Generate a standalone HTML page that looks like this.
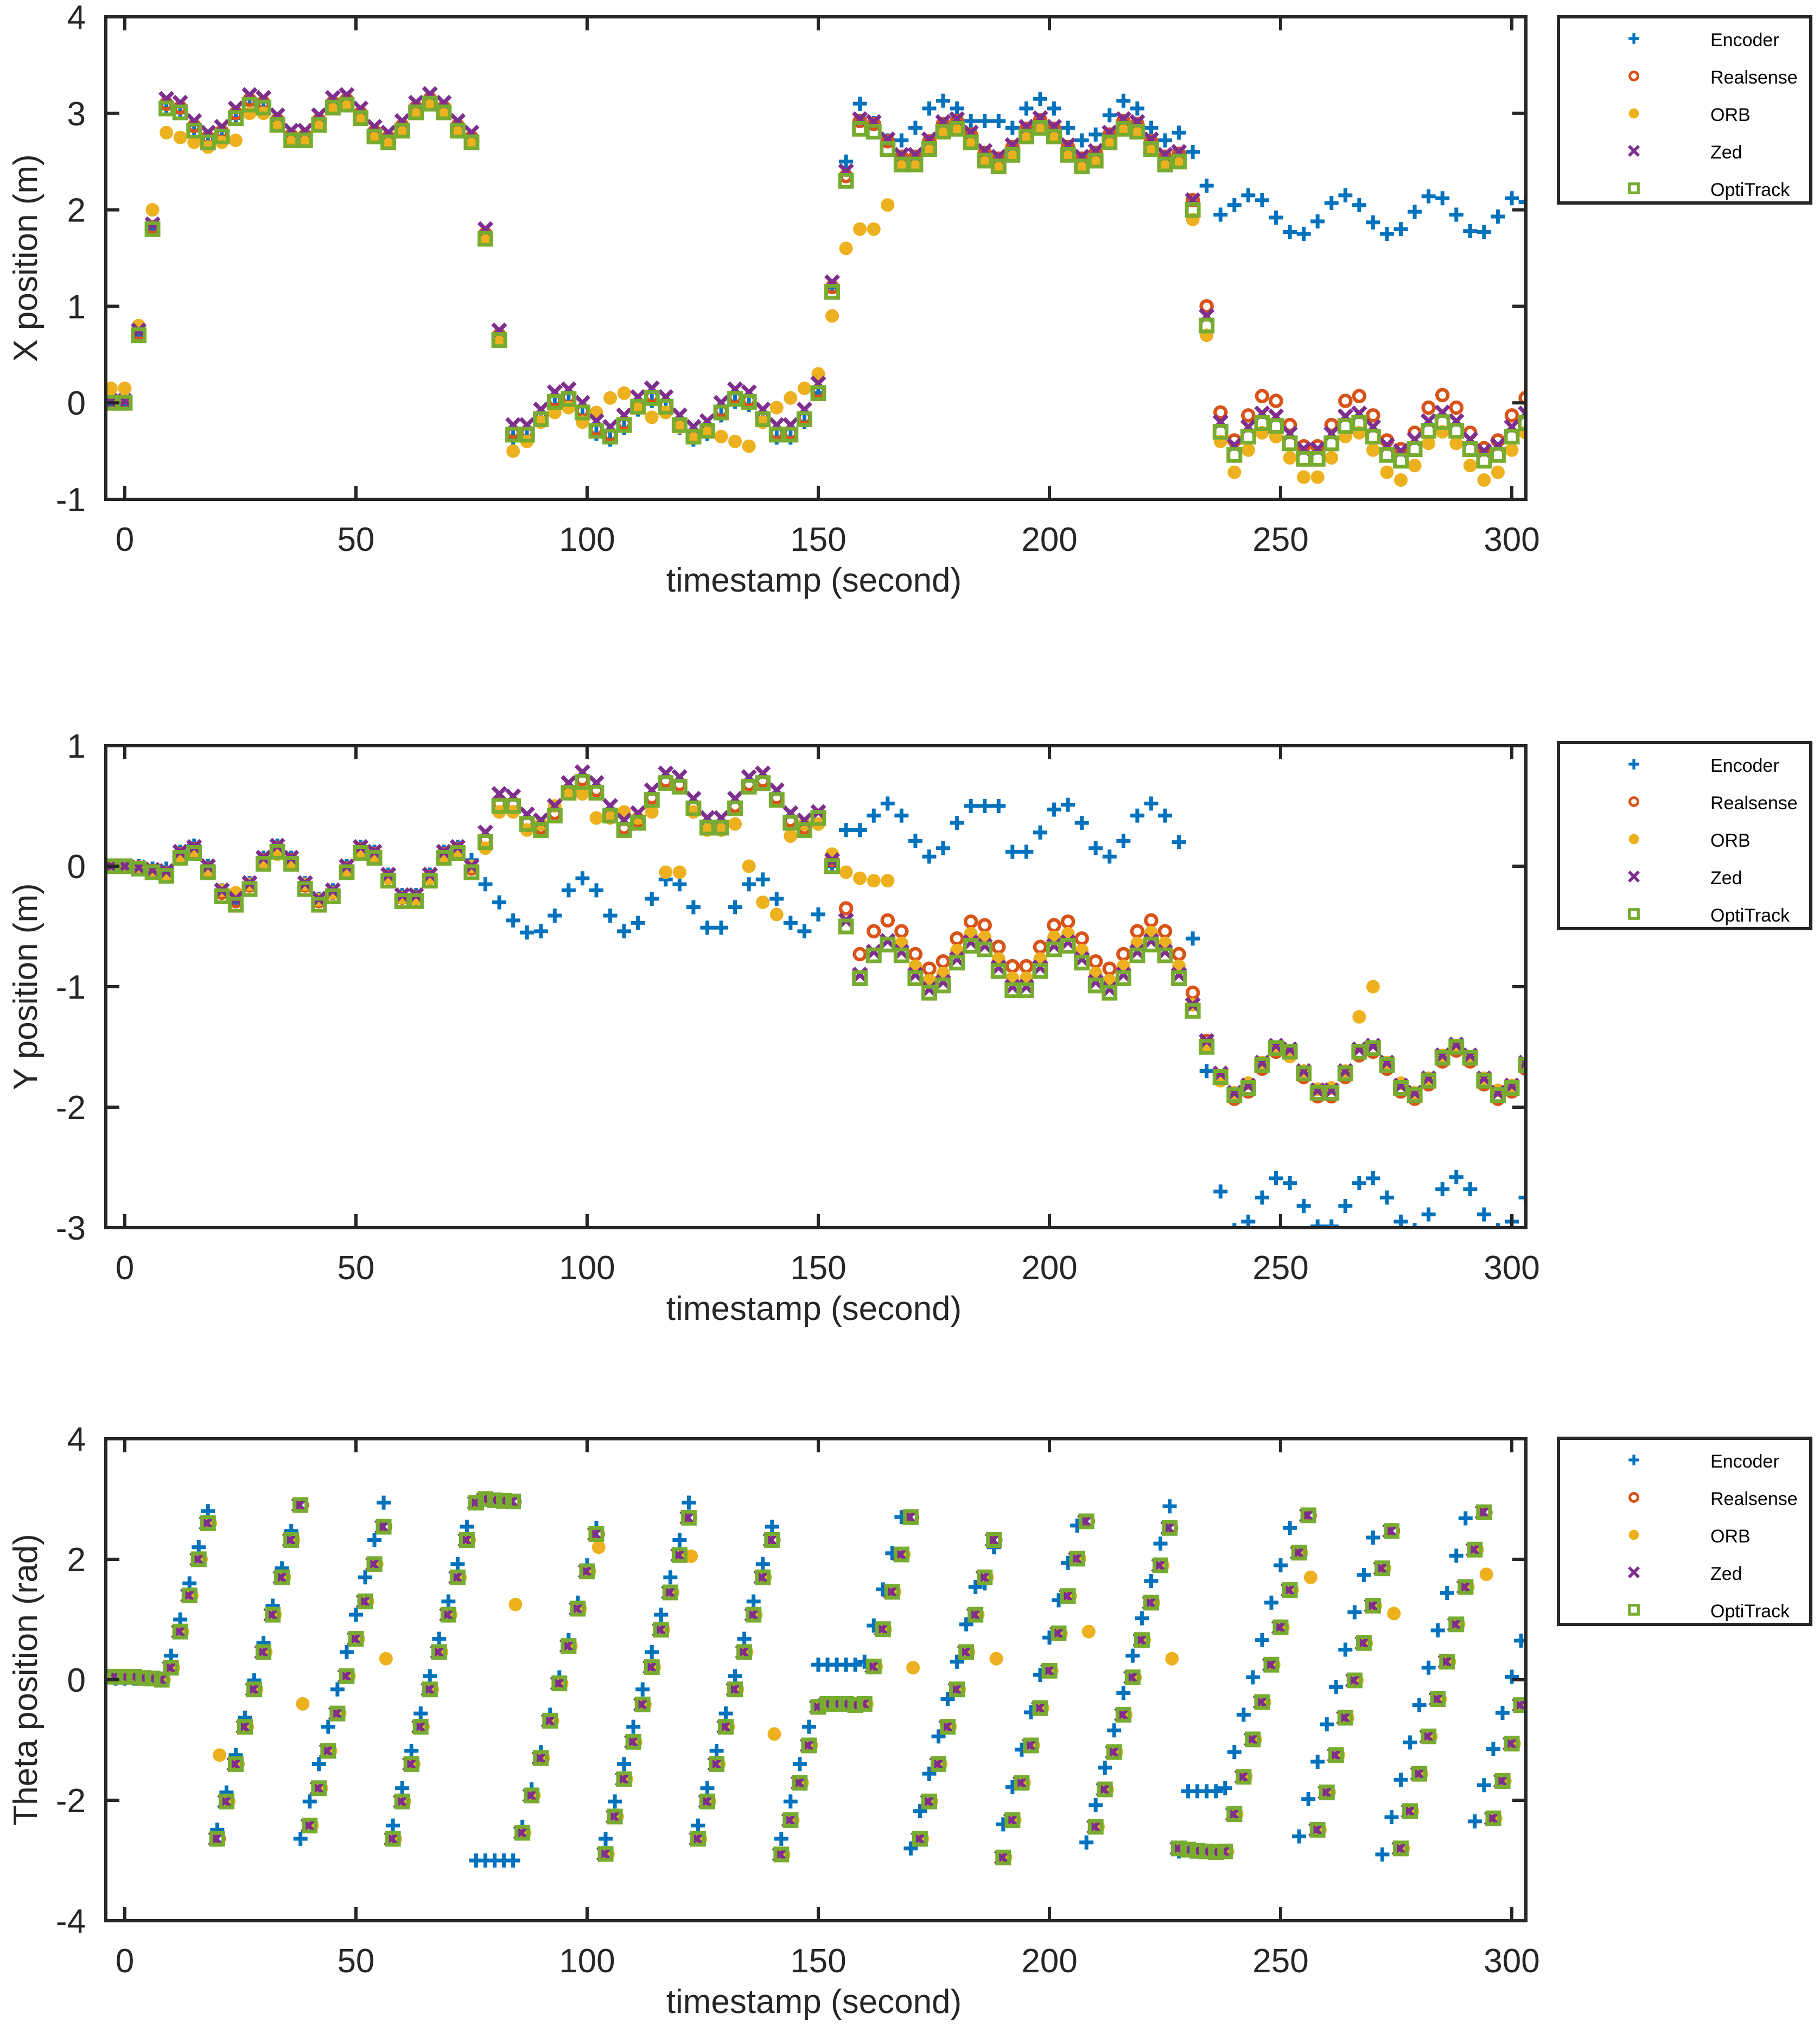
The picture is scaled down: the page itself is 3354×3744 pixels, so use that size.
<!DOCTYPE html>
<html><head><meta charset="utf-8"><style>
html,body{margin:0;padding:0;background:#fff;}
svg{display:block;font-family:"Liberation Sans",Arial,sans-serif;}
</style></head><body>
<svg id="fig" width="3354" height="3744" viewBox="0 0 3354 3744" xmlns="http://www.w3.org/2000/svg"></svg>
<script>
// ---------- data ----------
const xT0 = -3, xDT = 3;   // X & Y plots sample times
const thT0 = -2, thDT = 2; // theta plot sample times
const seriesNames = ["Encoder","Realsense","ORB","Zed","OptiTrack"];
const xTicks = [0,50,100,150,200,250,300];
const yTicksX = [4,3,2,1,0,-1];
const yTicksY = [1,0,-1,-2,-3];
const yTicksT = [4,2,0,-2,-4];

const xOpti = [0,0,0.7,1.8,3.05,3.01,2.82,2.70,2.76,2.95,3.09,3.06,2.88,2.72,2.72,2.88,3.06,3.09,2.95,2.76,2.70,2.82,3.01,3.10,3.01,2.82,2.70,1.7,0.65,-0.33,-0.33,-0.17,0.01,0.04,-0.10,-0.29,-0.35,-0.23,-0.04,0.05,-0.04,-0.23,-0.35,-0.29,-0.10,0.04,0.01,-0.17,-0.33,-0.33,-0.17,0.1,1.15,2.3,2.84,2.81,2.63,2.47,2.47,2.63,2.81,2.84,2.70,2.51,2.45,2.57,2.76,2.85,2.76,2.57,2.45,2.51,2.70,2.84,2.81,2.63,2.47,2.5,2.0,0.8,-0.3,-0.54,-0.35,-0.21,-0.24,-0.42,-0.58,-0.58,-0.42,-0.24,-0.21,-0.35,-0.54,-0.60,-0.48,-0.29,-0.20,-0.29,-0.48,-0.60,-0.54,-0.35,-0.21];
const xZed = [0.02,0.02,0.75,1.85,3.15,3.11,2.92,2.80,2.86,3.05,3.19,3.16,2.98,2.82,2.82,2.98,3.16,3.19,3.05,2.86,2.80,2.92,3.11,3.20,3.11,2.92,2.80,1.8,0.75,-0.23,-0.23,-0.07,0.11,0.14,0.00,-0.19,-0.25,-0.13,0.06,0.15,0.06,-0.13,-0.25,-0.19,0.00,0.14,0.11,-0.07,-0.23,-0.23,-0.07,0.2,1.25,2.4,2.94,2.91,2.73,2.57,2.57,2.73,2.91,2.94,2.80,2.61,2.55,2.67,2.86,2.95,2.86,2.67,2.55,2.61,2.80,2.94,2.91,2.73,2.57,2.6,2.1,0.9,-0.2,-0.44,-0.25,-0.11,-0.14,-0.32,-0.48,-0.48,-0.32,-0.14,-0.11,-0.25,-0.44,-0.50,-0.38,-0.19,-0.10,-0.19,-0.38,-0.50,-0.44,-0.25,-0.11];
const xReal = [0,0,0.72,1.82,3.1,3.06,2.87,2.75,2.81,3.00,3.14,3.11,2.93,2.77,2.77,2.93,3.11,3.14,3.00,2.81,2.75,2.87,3.06,3.15,3.06,2.87,2.75,1.75,0.7,-0.3,-0.3,-0.15,0.03,0.06,-0.08,-0.27,-0.33,-0.21,-0.02,0.07,-0.02,-0.21,-0.33,-0.27,-0.08,0.06,0.03,-0.15,-0.31,-0.31,-0.15,0.12,1.2,2.35,2.92,2.89,2.71,2.55,2.55,2.71,2.89,2.92,2.78,2.59,2.53,2.65,2.84,2.93,2.84,2.65,2.53,2.59,2.78,2.92,2.89,2.71,2.55,2.58,2.1,1.0,-0.1,-0.39,-0.13,0.07,0.02,-0.23,-0.45,-0.45,-0.23,0.02,0.07,-0.13,-0.39,-0.48,-0.31,-0.05,0.08,-0.05,-0.31,-0.47,-0.39,-0.13,0.05];
const xOrb = [0.15,0.15,0.8,2.0,2.8,2.75,2.7,2.65,2.7,2.72,3.0,3.0,2.88,2.72,2.72,2.88,3.06,3.09,2.95,2.76,2.70,2.82,3.01,3.10,3.01,2.82,2.70,1.7,0.65,-0.5,-0.4,-0.2,-0.1,-0.05,-0.2,-0.1,0.05,0.1,-0.05,-0.15,-0.1,-0.25,-0.35,-0.3,-0.35,-0.4,-0.45,-0.2,-0.05,0.05,0.15,0.3,0.9,1.6,1.8,1.8,2.05,2.47,2.47,2.63,2.81,2.84,2.70,2.51,2.45,2.57,2.76,2.85,2.76,2.57,2.45,2.51,2.70,2.84,2.81,2.63,2.47,2.5,1.9,0.7,-0.4,-0.72,-0.49,-0.31,-0.35,-0.57,-0.77,-0.77,-0.57,-0.35,-0.31,-0.49,-0.72,-0.80,-0.65,-0.42,-0.30,-0.42,-0.65,-0.80,-0.72,-0.49,-0.31];
const xEnc = [0,0,0.7,1.8,3.05,3.01,2.82,2.70,2.76,2.95,3.09,3.06,2.88,2.72,2.72,2.88,3.06,3.09,2.95,2.76,2.70,2.82,3.01,3.10,3.01,2.82,2.70,1.7,0.65,-0.36,-0.36,-0.2,-0.02,0.01,-0.13,-0.32,-0.38,-0.26,-0.07,0.02,-0.07,-0.26,-0.38,-0.32,-0.13,0.01,-0.02,-0.2,-0.36,-0.36,-0.2,0.1,1.2,2.5,3.1,2.9,2.72,2.72,2.85,3.05,3.13,3.05,2.92,2.92,2.92,2.85,3.05,3.15,3.05,2.85,2.72,2.78,2.98,3.13,3.05,2.85,2.72,2.8,2.6,2.25,1.95,2.05,2.15,2.1,1.92,1.77,1.75,1.88,2.07,2.15,2.05,1.87,1.75,1.8,1.98,2.14,2.12,1.95,1.78,1.77,1.93,2.12,2.08];

const yOpti = [0,0,-0.02,-0.05,-0.08,0.07,0.11,-0.05,-0.25,-0.32,-0.19,0.02,0.12,0.02,-0.19,-0.32,-0.25,-0.05,0.11,0.07,-0.12,-0.29,-0.29,-0.12,0.07,0.11,-0.05,0.2,0.5,0.5,0.35,0.30,0.42,0.61,0.70,0.61,0.42,0.30,0.36,0.55,0.69,0.66,0.48,0.32,0.32,0.48,0.66,0.69,0.55,0.36,0.30,0.4,0.0,-0.5,-0.93,-0.74,-0.65,-0.74,-0.93,-1.05,-0.99,-0.80,-0.66,-0.69,-0.87,-1.03,-1.03,-0.87,-0.69,-0.66,-0.80,-0.99,-1.05,-0.93,-0.74,-0.65,-0.74,-0.93,-1.2,-1.5,-1.75,-1.90,-1.84,-1.65,-1.51,-1.54,-1.72,-1.88,-1.88,-1.72,-1.54,-1.51,-1.65,-1.84,-1.90,-1.78,-1.59,-1.50,-1.59,-1.78,-1.90,-1.84,-1.65];
const yZed = [0,0,-0.01,-0.03,-0.04,0.12,0.16,0.00,-0.20,-0.27,-0.14,0.07,0.17,0.07,-0.14,-0.27,-0.20,0.00,0.16,0.12,-0.07,-0.24,-0.24,-0.07,0.12,0.16,0.00,0.28,0.6,0.58,0.43,0.38,0.50,0.69,0.78,0.69,0.50,0.38,0.44,0.63,0.77,0.74,0.56,0.40,0.40,0.56,0.74,0.77,0.63,0.44,0.38,0.45,0.05,-0.45,-0.90,-0.71,-0.62,-0.71,-0.90,-1.02,-0.96,-0.77,-0.63,-0.66,-0.84,-1.00,-1.00,-0.84,-0.66,-0.63,-0.77,-0.96,-1.02,-0.90,-0.71,-0.62,-0.71,-0.90,-1.15,-1.45,-1.72,-1.88,-1.82,-1.63,-1.49,-1.52,-1.70,-1.86,-1.86,-1.70,-1.52,-1.49,-1.63,-1.82,-1.88,-1.76,-1.57,-1.48,-1.57,-1.76,-1.88,-1.82,-1.63];
const yReal = [0,0,-0.01,-0.04,-0.06,0.10,0.14,-0.02,-0.22,-0.29,-0.16,0.05,0.15,0.05,-0.16,-0.29,-0.22,-0.02,0.14,0.10,-0.09,-0.26,-0.26,-0.09,0.10,0.14,-0.02,0.22,0.52,0.52,0.37,0.32,0.44,0.63,0.72,0.63,0.44,0.32,0.38,0.57,0.71,0.68,0.50,0.34,0.34,0.50,0.68,0.71,0.57,0.38,0.32,0.42,0.05,-0.35,-0.73,-0.54,-0.45,-0.54,-0.73,-0.85,-0.79,-0.60,-0.46,-0.49,-0.67,-0.83,-0.83,-0.67,-0.49,-0.46,-0.60,-0.79,-0.85,-0.73,-0.54,-0.45,-0.54,-0.73,-1.05,-1.45,-1.75,-1.93,-1.87,-1.68,-1.54,-1.57,-1.75,-1.91,-1.91,-1.75,-1.57,-1.54,-1.68,-1.87,-1.93,-1.81,-1.62,-1.53,-1.62,-1.81,-1.93,-1.87,-1.68];
const yOrb = [0,0,-0.02,-0.05,-0.07,0.06,0.10,-0.04,-0.20,-0.22,-0.15,0.03,0.10,0.03,-0.15,-0.28,-0.22,-0.04,0.10,0.08,-0.10,-0.26,-0.27,-0.10,0.07,0.10,0.0,0.15,0.45,0.45,0.3,0.35,0.5,0.6,0.6,0.4,0.4,0.45,0.4,0.45,-0.05,-0.05,0.45,0.3,0.3,0.35,0.0,-0.3,-0.4,0.25,0.35,0.35,0.1,-0.05,-0.1,-0.12,-0.12,-0.64,-0.83,-0.95,-0.89,-0.70,-0.56,-0.59,-0.77,-0.93,-0.93,-0.77,-0.59,-0.56,-0.70,-0.89,-0.95,-0.83,-0.64,-0.55,-0.64,-0.83,-1.15,-1.5,-1.78,-1.88,-1.80,-1.63,-1.52,-1.58,-1.70,-1.85,-1.84,-1.70,-1.25,-1.0,-1.63,-1.80,-1.88,-1.76,-1.57,-1.50,-1.60,-1.76,-1.86,-1.82,-1.66];
const yEnc = [0,0,0.0,-0.02,-0.02,0.12,0.17,0.0,-0.2,-0.27,-0.14,0.07,0.17,0.07,-0.14,-0.27,-0.2,0.0,0.16,0.12,-0.07,-0.24,-0.24,-0.07,0.12,0.16,0.05,-0.15,-0.3,-0.45,-0.55,-0.54,-0.41,-0.20,-0.10,-0.20,-0.41,-0.54,-0.47,-0.27,-0.11,-0.15,-0.34,-0.51,-0.51,-0.34,-0.15,-0.11,-0.27,-0.47,-0.54,-0.4,0.0,0.3,0.3,0.42,0.52,0.42,0.21,0.08,0.15,0.36,0.50,0.50,0.50,0.12,0.12,0.28,0.47,0.51,0.36,0.15,0.08,0.21,0.42,0.52,0.42,0.2,-0.6,-1.7,-2.7,-3.02,-2.95,-2.75,-2.59,-2.63,-2.82,-2.99,-2.99,-2.82,-2.63,-2.59,-2.75,-2.95,-3.02,-2.89,-2.68,-2.58,-2.68,-2.89,-3.02,-2.95,-2.75];

const thOpti = [0.05,0.05,0.05,0.03,0.02,0.0,0.2,0.8,1.4,2.0,2.6,-2.64,-2.02,-1.40,-0.78,-0.16,0.46,1.08,1.70,2.32,2.9,-2.42,-1.80,-1.18,-0.56,0.06,0.68,1.30,1.92,2.54,-2.64,-2.02,-1.40,-0.78,-0.16,0.46,1.08,1.70,2.32,2.94,3.0,2.98,2.97,2.96,-2.54,-1.92,-1.30,-0.68,-0.06,0.56,1.18,1.80,2.42,-2.89,-2.27,-1.65,-1.03,-0.41,0.21,0.83,1.45,2.07,2.69,-2.64,-2.02,-1.40,-0.78,-0.16,0.46,1.08,1.70,2.32,-2.9,-2.33,-1.71,-1.09,-0.45,-0.4,-0.4,-0.4,-0.42,-0.4,0.22,0.84,1.46,2.08,2.70,-2.64,-2.02,-1.40,-0.78,-0.16,0.46,1.08,1.70,2.32,-2.95,-2.33,-1.71,-1.09,-0.47,0.15,0.77,1.39,2.01,2.63,-2.44,-1.82,-1.20,-0.58,0.04,0.66,1.28,1.90,2.52,-2.8,-2.82,-2.84,-2.85,-2.86,-2.85,-2.23,-1.61,-0.99,-0.37,0.25,0.87,1.49,2.11,2.73,-2.49,-1.87,-1.25,-0.63,-0.01,0.61,1.23,1.85,2.47,-2.8,-2.18,-1.56,-0.94,-0.32,0.30,0.92,1.54,2.16,2.78,-2.3,-1.68,-1.06,-0.42];
const thZed = [0.05,0.05,0.05,0.03,0.02,0.0,0.2,0.8,1.4,2.0,2.6,-2.64,-2.02,-1.40,-0.78,-0.16,0.46,1.08,1.70,2.32,2.9,-2.42,-1.80,-1.18,-0.56,0.06,0.68,1.30,1.92,2.54,-2.64,-2.02,-1.40,-0.78,-0.16,0.46,1.08,1.70,2.32,2.94,3.0,2.98,2.97,2.96,-2.54,-1.92,-1.30,-0.68,-0.06,0.56,1.18,1.80,2.42,-2.89,-2.27,-1.65,-1.03,-0.41,0.21,0.83,1.45,2.07,2.69,-2.64,-2.02,-1.40,-0.78,-0.16,0.46,1.08,1.70,2.32,-2.9,-2.33,-1.71,-1.09,-0.45,-0.4,-0.4,-0.4,-0.42,-0.4,0.22,0.84,1.46,2.08,2.70,-2.64,-2.02,-1.40,-0.78,-0.16,0.46,1.08,1.70,2.32,-2.95,-2.33,-1.71,-1.09,-0.47,0.15,0.77,1.39,2.01,2.63,-2.44,-1.82,-1.20,-0.58,0.04,0.66,1.28,1.90,2.52,-2.8,-2.82,-2.84,-2.85,-2.86,-2.85,-2.23,-1.61,-0.99,-0.37,0.25,0.87,1.49,2.11,2.73,-2.49,-1.87,-1.25,-0.63,-0.01,0.61,1.23,1.85,2.47,-2.8,-2.18,-1.56,-0.94,-0.32,0.30,0.92,1.54,2.16,2.78,-2.3,-1.68,-1.06,-0.42];
const thReal = [0.05,0.05,0.05,0.03,0.02,0.0,0.2,0.8,1.4,2.0,2.6,-2.64,-2.02,-1.40,-0.78,-0.16,0.46,1.08,1.70,2.32,2.9,-2.42,-1.80,-1.18,-0.56,0.06,0.68,1.30,1.92,2.54,-2.64,-2.02,-1.40,-0.78,-0.16,0.46,1.08,1.70,2.32,2.94,3.0,2.98,2.97,2.96,-2.54,-1.92,-1.30,-0.68,-0.06,0.56,1.18,1.80,2.42,-2.89,-2.27,-1.65,-1.03,-0.41,0.21,0.83,1.45,2.07,2.69,-2.64,-2.02,-1.40,-0.78,-0.16,0.46,1.08,1.70,2.32,-2.9,-2.33,-1.71,-1.09,-0.45,-0.4,-0.4,-0.4,-0.42,-0.4,0.22,0.84,1.46,2.08,2.70,-2.64,-2.02,-1.40,-0.78,-0.16,0.46,1.08,1.70,2.32,-2.95,-2.33,-1.71,-1.09,-0.47,0.15,0.77,1.39,2.01,2.63,-2.44,-1.82,-1.20,-0.58,0.04,0.66,1.28,1.90,2.52,-2.8,-2.82,-2.84,-2.85,-2.86,-2.85,-2.23,-1.61,-0.99,-0.37,0.25,0.87,1.49,2.11,2.73,-2.49,-1.87,-1.25,-0.63,-0.01,0.61,1.23,1.85,2.47,-2.8,-2.18,-1.56,-0.94,-0.32,0.30,0.92,1.54,2.16,2.78,-2.3,-1.68,-1.06,-0.42];
const thOrb = [0.05,0.05,0.05,0.03,0.02,0.0,0.2,0.8,1.4,2.0,2.6,-1.25,-2.02,-1.40,-0.78,-0.16,0.46,1.08,1.70,2.32,-0.4,-2.42,-1.80,-1.18,-0.56,0.06,0.68,1.30,1.92,0.35,-2.64,-2.02,-1.40,-0.78,-0.16,0.46,1.08,1.70,2.32,2.94,3.0,2.98,2.97,1.25,-2.54,-1.92,-1.30,-0.68,-0.06,0.56,1.18,1.80,2.2,-2.89,-2.27,-1.65,-1.03,-0.41,0.21,0.83,1.45,2.07,2.05,-2.64,-2.02,-1.40,-0.78,-0.16,0.46,1.08,1.70,-0.9,-2.9,-2.33,-1.71,-1.09,-0.45,-0.4,-0.4,-0.4,-0.42,-0.4,0.22,0.84,1.46,2.08,0.2,-2.64,-2.02,-1.40,-0.78,-0.16,0.46,1.08,1.70,0.35,-2.95,-2.33,-1.71,-1.09,-0.47,0.15,0.77,1.39,2.01,0.8,-2.44,-1.82,-1.20,-0.58,0.04,0.66,1.28,1.90,0.35,-2.8,-2.82,-2.84,-2.85,-2.86,-2.85,-2.23,-1.61,-0.99,-0.37,0.25,0.87,1.49,2.11,1.7,-2.49,-1.87,-1.25,-0.63,-0.01,0.61,1.23,1.85,1.1,-2.8,-2.18,-1.56,-0.94,-0.32,0.30,0.92,1.54,2.16,1.75,-2.3,-1.68,-1.06,-0.42];
const thEnc = [0.02,0.02,0.02,0.02,0.02,0.02,0.4,1.0,1.6,2.2,2.8,-2.49,-1.87,-1.25,-0.63,-0.01,0.61,1.23,1.85,2.47,-2.64,-2.02,-1.40,-0.78,-0.16,0.46,1.08,1.70,2.32,2.94,-2.42,-1.80,-1.18,-0.56,0.06,0.68,1.30,1.92,2.54,-3.0,-3.0,-3.0,-3.0,-3.0,-2.44,-1.82,-1.20,-0.58,0.04,0.66,1.28,1.90,2.52,-2.64,-2.02,-1.40,-0.78,-0.16,0.46,1.08,1.70,2.32,2.94,-2.42,-1.80,-1.18,-0.56,0.06,0.68,1.30,1.92,2.54,-2.64,-2.02,-1.40,-0.78,0.25,0.25,0.25,0.25,0.25,0.3,0.9,1.5,2.1,2.7,-2.8,-2.18,-1.56,-0.94,-0.32,0.30,0.92,1.54,1.6,2.2,-2.4,-1.78,-1.16,-0.54,0.08,0.70,1.32,1.94,2.56,-2.7,-2.08,-1.46,-0.84,-0.22,0.40,1.02,1.64,2.26,2.88,-2.85,-1.85,-1.85,-1.85,-1.85,-1.8,-1.2,-0.58,0.04,0.66,1.28,1.90,2.52,-2.6,-1.98,-1.36,-0.74,-0.12,0.50,1.12,1.74,2.36,-2.9,-2.28,-1.66,-1.04,-0.42,0.20,0.82,1.44,2.06,2.68,-2.35,-1.75,-1.15,-0.55,0.05,0.65];

// ---------- rendering ----------
const NS = "http://www.w3.org/2000/svg";
const svg = document.getElementById("fig");
const COLORS = ["#0072BD","#D95319","#EDB120","#7E2F8E","#77AC30"];
const AX_L = 195, AX_R = 2812, X_MIN = -4.1, X_MAX = 303.05;
function sx(t){ return AX_L + (t - X_MIN) / (X_MAX - X_MIN) * (AX_R - AX_L); }
function mk(tag, attrs, parent){
  const e = document.createElementNS(NS, tag);
  for (const k in attrs) e.setAttribute(k, attrs[k]);
  (parent || svg).appendChild(e);
  return e;
}
function marker(kind, cx, cy, color, parent, s){
  s = s || 1;
  let e;
  if (kind === 0) {
    const h = 13*s;
    e = mk("path", {d:`M${cx-h} ${cy}H${cx+h}M${cx} ${cy-h}V${cy+h}`, stroke:color, "stroke-width":7*s, fill:"none"}, parent);
  } else if (kind === 1) {
    e = mk("circle", {cx:cx, cy:cy, r:10*s, stroke:color, "stroke-width":6.5*s, fill:"none"}, parent);
  } else if (kind === 2) {
    e = mk("circle", {cx:cx, cy:cy, r:12.5*s, fill:color}, parent);
  } else if (kind === 3) {
    const h = 12*s;
    e = mk("path", {d:`M${cx-h} ${cy-h}L${cx+h} ${cy+h}M${cx-h} ${cy+h}L${cx+h} ${cy-h}`, stroke:color, "stroke-width":7.5*s, fill:"none"}, parent);
  } else {
    const h = 11*s;
    e = mk("rect", {x:cx-h, y:cy-h, width:2*h, height:2*h, stroke:color, "stroke-width":7*s, fill:"none"}, parent);
  }
  return e;
}

function drawPlot(cfg){
  const {id, top, bottom, yMin, yMax, yTicks, ylabel, series, t0, dt, legendTop} = cfg;
  const sy = v => bottom - (v - yMin) / (yMax - yMin) * (bottom - top);
  const g = mk("g", {});
  
  
  const clipId = id + "-clip";
  const cp = mk("clipPath", {id:clipId}, g);
  mk("rect", {x:AX_L, y:top, width:AX_R-AX_L, height:bottom-top}, cp);
  const data = mk("g", {"clip-path":`url(#${clipId})`}, g);
  series.forEach((arr, si) => {
    const sg = mk("g", {}, data);
    
    
    const st0 = t0 + cfg.lag[si];
    arr.forEach((v, i) => {
      const m = marker(si, sx(st0 + i*dt), sy(v), COLORS[si], sg, 1);
      
      
    });
  });
  const box = mk("rect", {x:AX_L, y:top, width:AX_R-AX_L, height:bottom-top, fill:"none", stroke:"#262626", "stroke-width":6}, g);
  
  
  xTicks.forEach(t => {
    const x = sx(t);
    mk("line", {x1:x, x2:x, y1:bottom, y2:bottom-25, stroke:"#262626", "stroke-width":6}, g);
    mk("line", {x1:x, x2:x, y1:top, y2:top+25, stroke:"#262626", "stroke-width":6}, g);
    const tx = mk("text", {x:x, y:bottom+95, "text-anchor":"middle", "font-size":62, fill:"#262626"}, g);
    tx.textContent = t;
    
    
  });
  yTicks.forEach(v => {
    const y = sy(v);
    mk("line", {x1:AX_L, x2:AX_L+25, y1:y, y2:y, stroke:"#262626", "stroke-width":6}, g);
    mk("line", {x1:AX_R, x2:AX_R-25, y1:y, y2:y, stroke:"#262626", "stroke-width":6}, g);
    const tx = mk("text", {x:158, y:y+22, "text-anchor":"end", "font-size":62, fill:"#262626"}, g);
    tx.textContent = v;
    
    
  });
  const xl = mk("text", {x:1500, y:bottom+170, "text-anchor":"middle", "font-size":62, fill:"#262626"}, g);
  xl.textContent = "timestamp (second)";
  
  
  const yc = (top+bottom)/2;
  const yl = mk("text", {x:68, y:yc, "text-anchor":"middle", "font-size":62, fill:"#262626", transform:`rotate(-90 68 ${yc})`}, g);
  yl.textContent = ylabel;
  
  
  const lg = mk("g", {}, g);
  
  
  mk("rect", {x:2872, y:legendTop, width:465, height:343, fill:"#fff", stroke:"#262626", "stroke-width":6}, lg);
  seriesNames.forEach((n, si) => {
    const ry = legendTop + 40 + si*69;
    const row = mk("g", {}, lg);
    
    
    marker(si, 3011, ry, COLORS[si], row, 0.75);
    const tx = mk("text", {x:3152, y:ry+14, "font-size":34, fill:"#000"}, row);
    tx.textContent = n;
  });
}

drawPlot({id:"x-position", top:31, bottom:920, yMin:-1, yMax:4, yTicks:yTicksX, ylabel:"X position (m)",
  series:[xEnc, xReal, xOrb, xZed, xOpti], t0:xT0, dt:xDT, lag:[0,0,0,0,0], legendTop:31});
drawPlot({id:"y-position", top:1374, bottom:2262, yMin:-3, yMax:1, yTicks:yTicksY, ylabel:"Y position (m)",
  series:[yEnc, yReal, yOrb, yZed, yOpti], t0:xT0, dt:xDT, lag:[0,0,0,0,0], legendTop:1368});
drawPlot({id:"theta-position", top:2651, bottom:3539, yMin:-4, yMax:4, yTicks:yTicksT, ylabel:"Theta position (rad)",
  series:[thEnc, thReal, thOrb, thZed, thOpti], t0:thT0, dt:thDT, lag:[0,0.3,0.5,-0.3,0], legendTop:2650});
</script>
</body></html>
